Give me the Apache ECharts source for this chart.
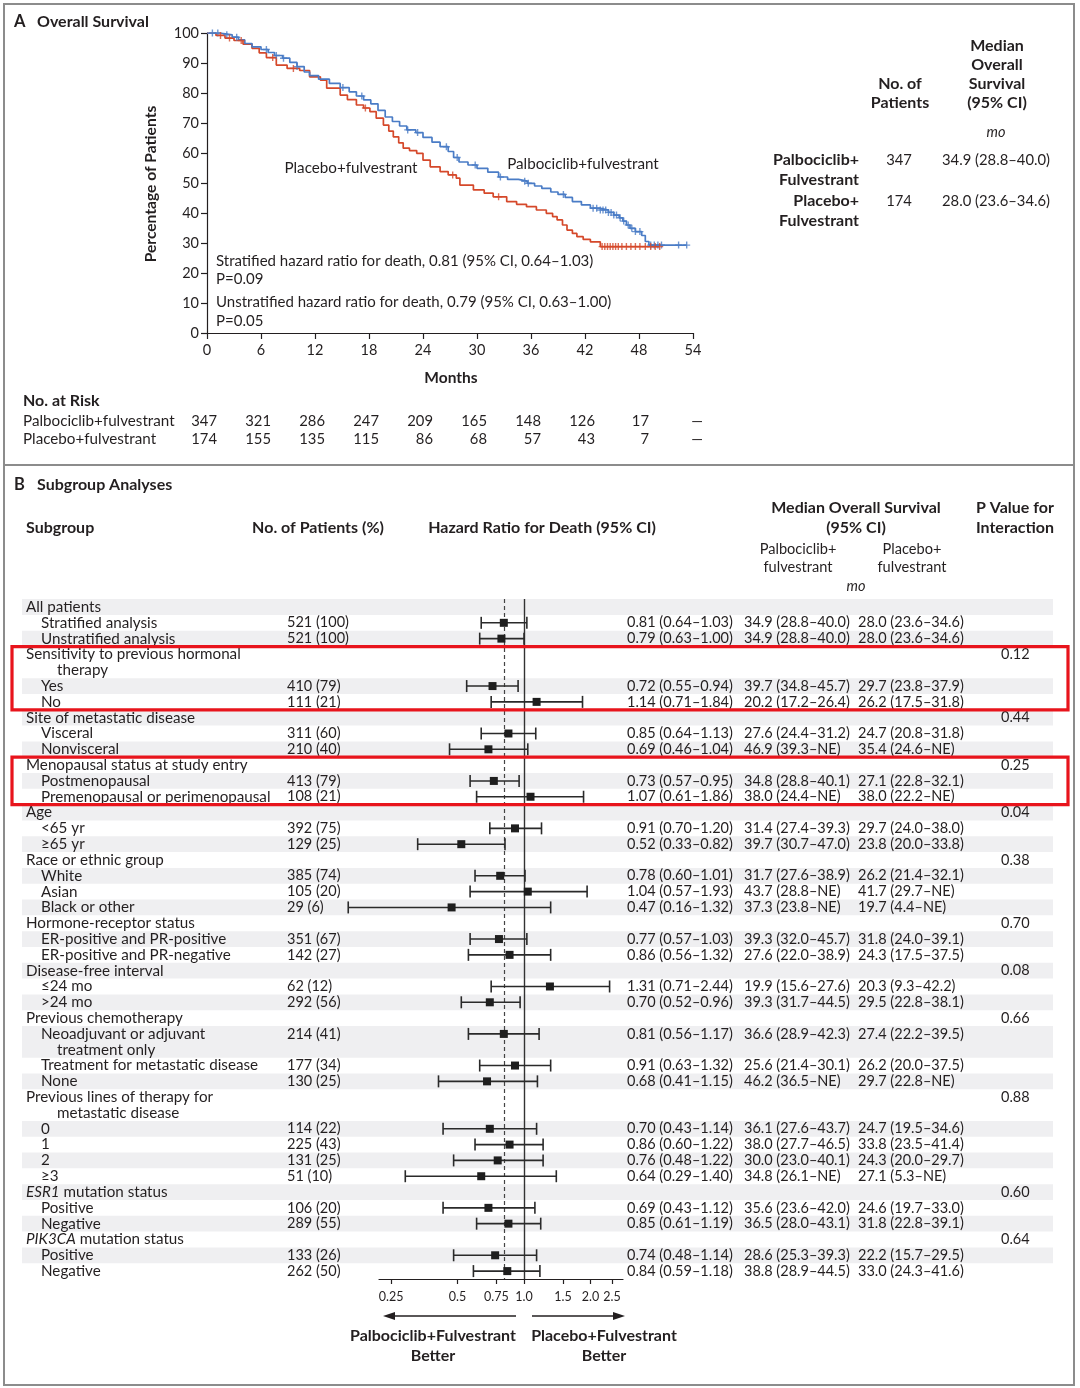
<!DOCTYPE html>
<html><head><meta charset="utf-8">
<script src="https://cdn.jsdelivr.net/npm/echarts@6/dist/echarts.min.js"></script>
<style>html,body{margin:0;padding:0;background:#fff}#c{width:1080px;height:1388px}</style>
</head><body><div id="c"></div>
<script>
// ---------------- Panel A data ----------------
const kmMonthTicks = [0, 6, 12, 18, 24, 30, 36, 42, 48, 54];
const palboTimes = [0,1.5,2.8,3.5,4.2,5,6,6.8,7.5,8.4,9.2,10,10.8,11.4,12.4,13.6,14.8,15.8,16.6,17.4,18.2,19,19.8,20.6,21.4,22.2,23.2,24,25,25.9,26.8,27.4,28,29,30,31.2,32.4,33.4,34.6,35.6,36.4,37.2,38.2,39,39.8,40.6,41.6,42.6,43.6,44.6,45.2,45.8,46.2,46.6,47,47.6,48.3,48.7,49.1,53.3];
const palboSurv  = [100,99.4,98.6,97.7,96.5,95.4,94.5,93.5,92.5,91.6,90.2,88.8,87,85.8,84.6,83.2,81.8,80.4,79,77.7,76.4,74.2,72,70.5,69,67.7,66.8,65.2,63.6,62.1,60.5,58.5,57,56,54.9,53.6,52,51.2,50.6,49.9,49,48.2,47,46.2,45.2,43.8,42.7,41.6,41,40.2,39.3,38.4,37.3,36,34.9,33.8,32.5,30.5,29.3,29.3];
const placeboTimes = [0,1,2,3,4,5,5.8,6.6,7.7,8.9,10.3,11.4,12.6,13.3,14.8,15.6,16.6,17.4,18.1,18.8,19.6,20.2,20.7,21.3,21.8,22.5,23.3,24,24.8,25.9,26.8,27.7,28.1,29.6,30.8,31.8,33.3,34.4,35.5,36.6,37.7,38.4,38.9,39.5,40,40.6,41.1,41.8,42.6,43.7,50.3];
const placeboSurv  = [100,99.2,98.3,97.5,96.3,94.9,93.4,91.8,89.3,88.2,87.5,85.4,84.3,81.6,79.3,77.8,76,75,73.8,71.6,69.3,67.3,65.4,63.4,61.6,60.8,59.9,57.6,55.4,53.8,52.7,51.6,49.3,47.7,46.6,45.4,43.8,42.9,42.1,41,39.9,38.8,37.7,36,34.3,33.2,32.1,31.2,30.4,28.8,28.8];
const palboCensor = [0.6,1.2,2.2,3.3,6.6,7.7,8.5,10,15.1,17.2,22.3,23.4,26.6,27.8,29.8,32.6,35.3,35.7,39.6,42.9,43.3,43.7,44,44.3,44.6,44.9,45.2,45.5,45.9,46.3,46.8,47.2,47.6,48.1,49.3,49.7,50.1,50.5,52.4,53.3];
const placeboCensor = [1.5,2.5,3.8,7.3,9.6,17.6,27.3,32.4,43.9,44.2,44.5,44.8,45.1,45.4,45.7,46.1,46.6,47.1,47.6,48.1,48.7,49.3,49.8,50.3];
const riskPalbo = ['347','321','286','247','209','165','148','126','17','—'];
const riskPlacebo = ['174','155','135','115','86','68','57','43','7','—'];

// ---------------- Panel B data ----------------
const rowLabels = ['All patients','Stratified analysis','Unstratified analysis','Sensitivity to previous hormonal','therapy','Yes','No','Site of metastatic disease','Visceral','Nonvisceral','Menopausal status at study entry','Postmenopausal','Premenopausal or perimenopausal','Age','<65 yr','≥65 yr','Race or ethnic group','White','Asian','Black or other','Hormone-receptor status','ER-positive and PR-positive','ER-positive and PR-negative','Disease-free interval','≤24 mo','>24 mo','Previous chemotherapy','Neoadjuvant or adjuvant','treatment only','Treatment for metastatic disease','None','Previous lines of therapy for','metastatic disease','0','1','2','≥3','{i|ESR1} mutation status','Positive','Negative','{i|PIK3CA} mutation status','Positive','Negative'];
const rowLevel = [0,1,1,0,2,1,1,0,1,1,0,1,1,0,1,1,0,1,1,1,0,1,1,0,1,1,0,1,2,1,1,0,2,1,1,1,1,0,1,1,0,1,1];
const nPatients = ['','521 (100)','521 (100)','','','410 (79)','111 (21)','','311 (60)','210 (40)','','413 (79)','108 (21)','','392 (75)','129 (25)','','385 (74)','105 (20)','29 (6)','','351 (67)','142 (27)','','62 (12)','292 (56)','','214 (41)','','177 (34)','130 (25)','','','114 (22)','225 (43)','131 (25)','51 (10)','','106 (20)','289 (55)','','133 (26)','262 (50)'];
const hrValue = [null,0.81,0.79,null,null,0.72,1.14,null,0.85,0.69,null,0.73,1.07,null,0.91,0.52,null,0.78,1.04,0.47,null,0.77,0.86,null,1.31,0.70,null,0.81,null,0.91,0.68,null,null,0.70,0.86,0.76,0.64,null,0.69,0.85,null,0.74,0.84];
const hrLow   = [null,0.64,0.63,null,null,0.55,0.71,null,0.64,0.46,null,0.57,0.61,null,0.70,0.33,null,0.60,0.57,0.16,null,0.57,0.56,null,0.71,0.52,null,0.56,null,0.63,0.41,null,null,0.43,0.60,0.48,0.29,null,0.43,0.61,null,0.48,0.59];
const hrHigh  = [null,1.03,1.00,null,null,0.94,1.84,null,1.13,1.04,null,0.95,1.86,null,1.20,0.82,null,1.01,1.93,1.32,null,1.03,1.32,null,2.44,0.96,null,1.17,null,1.32,1.15,null,null,1.14,1.22,1.22,1.40,null,1.12,1.19,null,1.14,1.18];
const medianPalbo = ['','34.9 (28.8–40.0)','34.9 (28.8–40.0)','','','39.7 (34.8–45.7)','20.2 (17.2–26.4)','','27.6 (24.4–31.2)','46.9 (39.3–NE)','','34.8 (28.8–40.1)','38.0 (24.4–NE)','','31.4 (27.4–39.3)','39.7 (30.7–47.0)','','31.7 (27.6–38.9)','43.7 (28.8–NE)','37.3 (23.8–NE)','','39.3 (32.0–45.7)','27.6 (22.0–38.9)','','19.9 (15.6–27.6)','39.3 (31.7–44.5)','','36.6 (28.9–42.3)','','25.6 (21.4–30.1)','46.2 (36.5–NE)','','','36.1 (27.6–43.7)','38.0 (27.7–46.5)','30.0 (23.0–40.1)','34.8 (26.1–NE)','','35.6 (23.6–42.0)','36.5 (28.0–43.1)','','28.6 (25.3–39.3)','38.8 (28.9–44.5)'];
const medianPlacebo = ['','28.0 (23.6–34.6)','28.0 (23.6–34.6)','','','29.7 (23.8–37.9)','26.2 (17.5–31.8)','','24.7 (20.8–31.8)','35.4 (24.6–NE)','','27.1 (22.8–32.1)','38.0 (22.2–NE)','','29.7 (24.0–38.0)','23.8 (20.0–33.8)','','26.2 (21.4–32.1)','41.7 (29.7–NE)','19.7 (4.4–NE)','','31.8 (24.0–39.1)','24.3 (17.5–37.5)','','20.3 (9.3–42.2)','29.5 (22.8–38.1)','','27.4 (22.2–39.5)','','26.2 (20.0–37.5)','29.7 (22.8–NE)','','','24.7 (19.5–34.6)','33.8 (23.5–41.4)','24.3 (20.0–29.7)','27.1 (5.3–NE)','','24.6 (19.7–33.0)','31.8 (22.8–39.1)','','22.2 (15.7–29.5)','33.0 (24.3–41.6)'];
const pInteraction = ['','','','0.12','','','','0.44','','','0.25','','','0.04','','','0.38','','','','0.70','','','0.08','','','0.66','','','','','0.88','','','','','','0.60','','','0.64','',''];
const highlightRows = [[4, 7], [11, 13]];
const hrTicks = [0.25, 0.5, 0.75, 1.0, 1.5, 2.0, 2.5];
const hrTickLabels = ['0.25', '0.5', '0.75', '1.0', '1.5', '2.0', '2.5'];

// ---------------- helpers ----------------
const FONT = 'Lato, "Noto Sans", sans-serif';
const INK = '#231f20';
const BLUE = '#4a7cc6';
const RED = '#d5482a';
function T(text, x, y, o) {
  o = o || {};
  return {
    type: 'text', x: x, y: y, rotation: o.rot || 0, silent: true, z: 20,
    style: {
      legacy: false, text: text, fill: o.color || INK, fontFamily: FONT,
      fontSize: o.size || 15, fontWeight: o.weight || 'normal', fontStyle: o.style || 'normal',
      align: o.align || 'left', verticalAlign: 'middle', rich: o.rich
    }
  };
}
function survAt(times, surv, t) {
  let v = surv[0];
  for (let i = 0; i < times.length; i++) { if (times[i] <= t) v = surv[i]; }
  return v;
}
const plusPath = 'path://M4,0H6V4H10V6H6V10H4V6H0V4H4Z';
const LABEL_SIZE = 15.2;
const NUM_SIZE = 14.5;
const italicRich = { i: { fontStyle: 'italic', fontFamily: FONT, fontSize: LABEL_SIZE, fill: INK } };
const HB = 16; // bold header size

const chart = echarts.init(document.getElementById('c'), null, { renderer: 'canvas' });

// ---------------- static graphics ----------------
const g = [];
g.push({ type: 'rect', shape: { x: 4, y: 4, width: 1070, height: 1381 }, style: { fill: 'none', stroke: '#8c8c8c', lineWidth: 2 }, silent: true });
g.push({ type: 'line', shape: { x1: 4, y1: 465, x2: 1074, y2: 465 }, style: { stroke: '#8c8c8c', lineWidth: 2 }, silent: true });
// Panel A titles
g.push(T('A', 14, 22, { weight: 'bold', size: 16.5 }));
g.push(T('Overall Survival', 37, 22, { weight: 'bold', size: HB }));
g.push(T('Percentage of Patients', 151, 184, { weight: 'bold', size: 15.6, align: 'center', rot: Math.PI / 2 }));
g.push(T('Months', 451, 378, { weight: 'bold', size: 15.5, align: 'center' }));
g.push(T('Placebo+fulvestrant', 351, 168, { size: 15.2, align: 'center' }));
g.push(T('Palbociclib+fulvestrant', 583, 164, { size: 15.2, align: 'center' }));
g.push(T('Stratified hazard ratio for death, 0.81 (95% CI, 0.64–1.03)', 216, 261, { size: 15 }));
g.push(T('P=0.09', 216, 279, { size: 15 }));
g.push(T('Unstratified hazard ratio for death, 0.79 (95% CI, 0.63–1.00)', 216, 302, { size: 15 }));
g.push(T('P=0.05', 216, 321, { size: 15 }));
// Median table
['Median', 'Overall', 'Survival', '(95% CI)'].forEach((s, k) => g.push(T(s, 997, 46 + k * 19, { weight: 'bold', size: HB, align: 'center' })));
g.push(T('No. of', 900, 84, { weight: 'bold', size: HB, align: 'center' }));
g.push(T('Patients', 900, 103, { weight: 'bold', size: HB, align: 'center' }));
g.push(T('mo', 996, 132, { style: 'italic', size: 14.5, align: 'center' }));
g.push(T('Palbociclib+', 859, 160, { weight: 'bold', size: HB, align: 'right' }));
g.push(T('Fulvestrant', 859, 180, { weight: 'bold', size: HB, align: 'right' }));
g.push(T('Placebo+', 859, 201, { weight: 'bold', size: HB, align: 'right' }));
g.push(T('Fulvestrant', 859, 221, { weight: 'bold', size: HB, align: 'right' }));
g.push(T('347', 899, 160, { size: 14.8, align: 'center' }));
g.push(T('174', 899, 201, { size: 14.8, align: 'center' }));
g.push(T('34.9 (28.8–40.0)', 942, 160, { size: 14.8 }));
g.push(T('28.0 (23.6–34.6)', 942, 201, { size: 14.8 }));
// Risk table
g.push(T('No. at Risk', 23, 401, { weight: 'bold', size: HB }));
g.push(T('Palbociclib+fulvestrant', 23, 421, { size: 15.2 }));
g.push(T('Placebo+fulvestrant', 23, 439, { size: 15.2 }));
// Panel B headers
g.push(T('B', 14, 485, { weight: 'bold', size: 16.5 }));
g.push(T('Subgroup Analyses', 37, 485, { weight: 'bold', size: HB }));
g.push(T('Subgroup', 26, 528, { weight: 'bold', size: HB }));
g.push(T('No. of Patients (%)', 318, 528, { weight: 'bold', size: HB, align: 'center' }));
g.push(T('Hazard Ratio for Death (95% CI)', 542, 528, { weight: 'bold', size: HB, align: 'center' }));
g.push(T('Median Overall Survival', 856, 508, { weight: 'bold', size: HB, align: 'center' }));
g.push(T('(95% CI)', 856, 528, { weight: 'bold', size: HB, align: 'center' }));
g.push(T('Palbociclib+', 798, 549, { size: 14.6, align: 'center' }));
g.push(T('fulvestrant', 798, 567, { size: 14.6, align: 'center' }));
g.push(T('Placebo+', 912, 549, { size: 14.6, align: 'center' }));
g.push(T('fulvestrant', 912, 567, { size: 14.6, align: 'center' }));
g.push(T('mo', 856, 586, { style: 'italic', size: 14.5, align: 'center' }));
g.push(T('P Value for', 1015, 508, { weight: 'bold', size: HB, align: 'center' }));
g.push(T('Interaction', 1015, 528, { weight: 'bold', size: HB, align: 'center' }));
// arrows
g.push({ type: 'line', shape: { x1: 392, y1: 1316, x2: 516, y2: 1316 }, style: { stroke: INK, lineWidth: 1.5 }, silent: true });
g.push({ type: 'polygon', shape: { points: [[383, 1316], [395, 1312], [395, 1320]] }, style: { fill: INK }, silent: true });
g.push({ type: 'line', shape: { x1: 532, y1: 1316, x2: 615, y2: 1316 }, style: { stroke: INK, lineWidth: 1.5 }, silent: true });
g.push({ type: 'polygon', shape: { points: [[625, 1316], [613, 1312], [613, 1320]] }, style: { fill: INK }, silent: true });
g.push(T('Palbociclib+Fulvestrant', 433, 1336, { weight: 'bold', size: HB, align: 'center' }));
g.push(T('Better', 433, 1356, { weight: 'bold', size: HB, align: 'center' }));
g.push(T('Placebo+Fulvestrant', 604, 1336, { weight: 'bold', size: HB, align: 'center' }));
g.push(T('Better', 604, 1356, { weight: 'bold', size: HB, align: 'center' }));

// ---------------- series data ----------------
const palboLine = palboTimes.map((t, i) => [t, palboSurv[i]]);
const placeboLine = placeboTimes.map((t, i) => [t, placeboSurv[i]]);
const palboMarks = palboCensor.map(t => [t, survAt(palboTimes, palboSurv, t)]);
const placeboMarks = placeboCensor.map(t => [t, survAt(placeboTimes, placeboSurv, t)]);
const riskData = kmMonthTicks.map((m, k) => [m, 0, k]);

// banding items: continuation rows (level 2) merge with previous row
const bandItems = [];
rowLevel.forEach((lv, i) => {
  if (lv === 2 && bandItems.length) bandItems[bandItems.length - 1][1] += 1;
  else bandItems.push([i + 1, 1, bandItems.length % 2 === 0 ? 1 : 0]);
});
const bandData = bandItems.map(b => [1, b[0], b[1], b[2]]);
const tableData = rowLabels.map((s, i) => [1, i + 1]);
const ciData = [];
hrValue.forEach((v, i) => { if (v != null) ciData.push([v, i + 1, hrLow[i], hrHigh[i]]); });
const boxData = highlightRows.map(r => [1, r[0], r[1]]);

function hrText(i) {
  return hrValue[i].toFixed(2) + ' (' + hrLow[i].toFixed(2) + '–' + hrHigh[i].toFixed(2) + ')';
}
function rowT(text, x, y, size, rich) {
  return { type: 'text', x: x, y: y, silent: true,
    style: { legacy: false, text: text, fill: INK, fontFamily: FONT, fontSize: size, align: 'left', verticalAlign: 'middle', rich: rich } };
}

const option = {
  animation: false,
  backgroundColor: '#fff',
  graphic: { elements: g },
  grid: [
    { left: 207, top: 33, width: 486, height: 300 },
    { left: 379, top: 599.1, width: 244, height: 679.9 }
  ],
  xAxis: [
    { gridIndex: 0, type: 'value', min: 0, max: 54, interval: 6,
      axisLine: { show: true, lineStyle: { color: INK, width: 1.2 } },
      axisTick: { show: true, inside: false, length: 6, lineStyle: { color: INK, width: 1.2 } },
      axisLabel: { fontFamily: FONT, fontSize: 14.5, color: INK, margin: 10 },
      splitLine: { show: false } },
    { gridIndex: 1, type: 'log', logBase: 10, min: 0.2205, max: 2.806,
      axisLine: { show: true, onZero: false, lineStyle: { color: INK, width: 1.2 } },
      axisTick: { show: true, inside: false, length: 5, customValues: hrTicks, lineStyle: { color: INK, width: 1.2 } },
      axisLabel: { fontFamily: FONT, fontSize: 12.5, color: INK, margin: 11, customValues: hrTicks,
        formatter: v => { const k = hrTicks.findIndex(t => Math.abs(t - v) < 1e-6); return k >= 0 ? hrTickLabels[k] : ''; } },
      splitLine: { show: false }, minorTick: { show: false } }
  ],
  yAxis: [
    { gridIndex: 0, type: 'value', min: 0, max: 100, interval: 10,
      axisLine: { show: true, lineStyle: { color: INK, width: 1.2 } },
      axisTick: { show: true, inside: false, length: 6, lineStyle: { color: INK, width: 1.2 } },
      axisLabel: { fontFamily: FONT, fontSize: 14.5, color: INK, margin: 8 },
      splitLine: { show: false } },
    { gridIndex: 1, type: 'value', min: 0.5, max: 43.5, inverse: true, show: false, splitLine: { show: false } }
  ],
  series: [
    { type: 'line', name: 'Palbociclib+fulvestrant', xAxisIndex: 0, yAxisIndex: 0, step: 'end', data: palboLine,
      showSymbol: false, lineStyle: { color: BLUE, width: 1.7 }, z: 4, silent: true },
    { type: 'line', name: 'Placebo+fulvestrant', xAxisIndex: 0, yAxisIndex: 0, step: 'end', data: placeboLine,
      showSymbol: false, lineStyle: { color: RED, width: 1.7 }, z: 3, silent: true },
    { type: 'scatter', xAxisIndex: 0, yAxisIndex: 0, data: palboMarks, symbol: plusPath, symbolSize: 7,
      itemStyle: { color: BLUE }, z: 5, silent: true },
    { type: 'scatter', xAxisIndex: 0, yAxisIndex: 0, data: placeboMarks, symbol: plusPath, symbolSize: 7,
      itemStyle: { color: RED }, z: 5, silent: true },
    // risk table numbers placed under month ticks
    { type: 'custom', xAxisIndex: 0, yAxisIndex: 0, data: riskData, silent: true, z: 6,
      renderItem: (params, api) => {
        const k = api.value(2);
        const x = api.coord([api.value(0), 0])[0] + 10;
        return { type: 'group', children: [
          { type: 'text', x: x, y: 421, style: { legacy: false, text: riskPalbo[k], fill: INK, fontFamily: FONT, fontSize: 14.8, align: 'right', verticalAlign: 'middle' } },
          { type: 'text', x: x, y: 439, style: { legacy: false, text: riskPlacebo[k], fill: INK, fontFamily: FONT, fontSize: 14.8, align: 'right', verticalAlign: 'middle' } }
        ] };
      } },
    // row bands
    { type: 'custom', xAxisIndex: 1, yAxisIndex: 1, data: bandData, silent: true, z: 0,
      renderItem: (params, api) => {
        if (!api.value(3)) return null;
        const y0 = api.coord([1, api.value(1) - 0.5])[1];
        const y1 = api.coord([1, api.value(1) + api.value(2) - 0.5])[1];
        return { type: 'rect', shape: { x: 22, y: y0, width: 1031, height: y1 - y0 }, style: { fill: '#efeff1' } };
      } },
    // table text
    { type: 'custom', xAxisIndex: 1, yAxisIndex: 1, data: tableData, silent: true, z: 2,
      renderItem: (params, api) => {
        const i = params.dataIndex;
        const y = api.coord([1, api.value(1)])[1];
        const kids = [rowT(rowLabels[i], [26, 41, 57][rowLevel[i]], y, LABEL_SIZE, italicRich)];
        if (nPatients[i]) kids.push(rowT(nPatients[i], 287, y, NUM_SIZE));
        if (hrValue[i] != null) kids.push(rowT(hrText(i), 627, y, NUM_SIZE));
        if (medianPalbo[i]) kids.push(rowT(medianPalbo[i], 744, y, NUM_SIZE));
        if (medianPlacebo[i]) kids.push(rowT(medianPlacebo[i], 858, y, NUM_SIZE));
        if (pInteraction[i]) kids.push(rowT(pInteraction[i], 1001, y, NUM_SIZE));
        return { type: 'group', children: kids };
      } },
    // highlight boxes
    { type: 'custom', xAxisIndex: 1, yAxisIndex: 1, data: boxData, silent: true, z: 8,
      renderItem: (params, api) => {
        const y0 = api.coord([1, api.value(1) - 0.5])[1];
        const y1 = api.coord([1, api.value(2) + 0.5])[1];
        return { type: 'rect', shape: { x: 12, y: y0, width: 1056, height: y1 - y0 }, style: { fill: 'none', stroke: '#e8141c', lineWidth: 3.2 } };
      } },
    // forest CI
    { type: 'custom', xAxisIndex: 1, yAxisIndex: 1, data: ciData, silent: true, z: 5,
      encode: { x: [0, 2, 3], y: 1 },
      renderItem: (params, api) => {
        const row = api.value(1);
        const p = api.coord([api.value(0), row]);
        const lo = api.coord([api.value(2), row]);
        const hi = api.coord([api.value(3), row]);
        const y = p[1], cap = 6, s = 4;
        const ls = { stroke: '#2a2a2a', lineWidth: 1.6 };
        return { type: 'group', children: [
          { type: 'line', shape: { x1: lo[0], y1: y, x2: hi[0], y2: y }, style: ls },
          { type: 'line', shape: { x1: lo[0], y1: y - cap, x2: lo[0], y2: y + cap }, style: ls },
          { type: 'line', shape: { x1: hi[0], y1: y - cap, x2: hi[0], y2: y + cap }, style: ls },
          { type: 'rect', shape: { x: p[0] - s, y: y - s, width: 2 * s, height: 2 * s }, style: { fill: '#1e1e1e' } }
        ] };
      },
      markLine: { silent: true, symbol: ['none', 'none'], label: { show: false },
        data: [
          { xAxis: 1, lineStyle: { color: '#333', width: 1.4, type: 'solid' } },
          { xAxis: hrValue[1], lineStyle: { color: '#444', width: 1.2, type: [4, 3] } }
        ] } }
  ]
};
chart.setOption(option);
</script></body></html>
